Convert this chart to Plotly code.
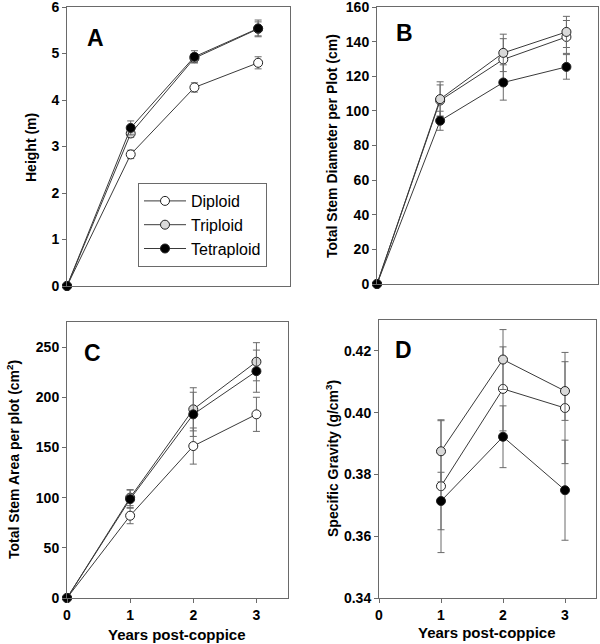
import plotly.graph_objects as go

# ---------------- data ----------------
years = [0, 1, 2, 3]
sg_years = [1, 2, 3]
series_names = ["Diploid", "Triploid", "Tetraploid"]

height_dip = [0, 2.83, 4.27, 4.80]
height_tri = [0, 3.28, 4.90, 5.53]
height_tet = [0, 3.40, 4.93, 5.54]
height_dip_err = [0, 0.09, 0.10, 0.13]
height_tri_err = [0, 0.08, 0.10, 0.15]
height_tet_err = [0, 0.15, 0.13, 0.18]

diam_dip = [0, 106.0, 129.7, 142.7]
diam_tri = [0, 106.8, 133.5, 145.6]
diam_tet = [0, 94.3, 116.4, 125.4]
diam_dip_err = [0, 9.0, 12.0, 9.5]
diam_tri_err = [0, 10.0, 10.8, 9.0]
diam_tet_err = [0, 5.5, 10.2, 7.1]

area_dip = [0, 82.0, 151.4, 183.0]
area_tri = [0, 100.0, 188.0, 235.4]
area_tet = [0, 98.5, 183.0, 226.0]
area_dip_err = [0, 8.0, 18.0, 17.0]
area_tri_err = [0, 8.0, 21.5, 19.0]
area_tet_err = [0, 9.0, 22.0, 21.0]

sg_dip = [0.3762, 0.4077, 0.4015]
sg_tri = [0.3875, 0.4172, 0.4070]
sg_tet = [0.3714, 0.3922, 0.3749]
sg_dip_err = [0.0215, 0.0136, 0.018]
sg_tri_err = [0.0099, 0.0097, 0.0095]
sg_tet_err = [0.0093, 0.0100, 0.0162]

# ---------------- style ----------------
FONT = "Arial, Liberation Sans, sans-serif"
fills = ["white", "#d9d9d9", "black"]
LINE_C = "#3a3a3a"
AX_C = "#6a6a6a"
ERR_C = "#6a6a6a"

W, H = 600, 644


def fx(p):
    return min(1.0, max(0.0, p / W))


def fy(p):
    return min(1.0, max(0.0, 1 - p / H))


def px_x(a, b):
    return [fx(a), fx(b)]


def px_y(top, bottom):
    return [fy(bottom), fy(top)]


fig = go.Figure()

panels = [
    ("x", "y", years, [height_dip, height_tri, height_tet],
     [height_dip_err, height_tri_err, height_tet_err], True),
    ("x2", "y2", years, [diam_dip, diam_tri, diam_tet],
     [diam_dip_err, diam_tri_err, diam_tet_err], False),
    ("x3", "y3", years, [area_dip, area_tri, area_tet],
     [area_dip_err, area_tri_err, area_tet_err], False),
    ("x4", "y4", sg_years, [sg_dip, sg_tri, sg_tet],
     [sg_dip_err, sg_tri_err, sg_tet_err], False),
]

for xa, ya, xs, ser, errs, showleg in panels:
    for name, vals, err, fill in zip(series_names, ser, errs, fills):
        fig.add_trace(go.Scatter(
            x=xs, y=vals, name=name, xaxis=xa, yaxis=ya,
            mode="lines+markers",
            line=dict(color=LINE_C, width=1),
            marker=dict(size=9, color=fill, line=dict(color="#222222", width=1)),
            error_y=dict(type="data", array=err, visible=True,
                         color=ERR_C, thickness=1, width=3.5),
            cliponaxis=False,
            showlegend=showleg,
        ))

tickfont = dict(family=FONT, size=14, color="black", weight="bold")


def xaxis_cfg(domain, anchor, labels):
    d = dict(domain=domain, anchor=anchor, range=[0, 3.5],
             showline=True, mirror=True, linecolor=AX_C, linewidth=1,
             showgrid=False, zeroline=False, automargin=False)
    if labels:
        d.update(tickmode="array", tickvals=[0, 1, 2, 3],
                 ticks="outside", ticklen=4, tickcolor=AX_C,
                 showticklabels=True, tickfont=tickfont,
                 ticklabeloverflow="allow")
    else:
        d.update(ticks="", showticklabels=False)
    return d


def yaxis_cfg(domain, anchor, rng, dtick, fmt=None):
    d = dict(domain=domain, anchor=anchor, range=rng, dtick=dtick, tick0=rng[0],
             showline=True, mirror=True, linecolor=AX_C, linewidth=1,
             ticks="outside", ticklen=4, tickcolor=AX_C,
             showgrid=False, zeroline=False, tickfont=tickfont, automargin=False,
             ticklabeloverflow="allow")
    if fmt:
        d["tickformat"] = fmt
    return d


fig.update_layout(
    width=W, height=H,
    margin=dict(l=0, r=0, t=0, b=0),
    paper_bgcolor="white", plot_bgcolor="white",
    font=dict(family=FONT, color="black"),
    xaxis=xaxis_cfg(px_x(67, 290), "y", False),
    yaxis=yaxis_cfg(px_y(7, 286), "x", [0, 6], 1),
    xaxis2=xaxis_cfg(px_x(377, 598), "y2", False),
    yaxis2=yaxis_cfg(px_y(7, 284), "x2", [0, 160], 20),
    xaxis3=xaxis_cfg(px_x(67, 288), "y3", True),
    yaxis3=yaxis_cfg(px_y(322, 598), "x3", [0, 275], 50),
    xaxis4=xaxis_cfg(px_x(379, 596), "y4", True),
    yaxis4=yaxis_cfg(px_y(320, 598), "x4", [0.34, 0.43], 0.02, ".2f"),
    legend=dict(x=fx(138), y=fy(183), xanchor="left", yanchor="top",
                bordercolor=AX_C, borderwidth=1, bgcolor="white",
                font=dict(family=FONT, size=16, color="black"),
                tracegroupgap=0, itemwidth=42),
)


def ann(text, x, y, size, angle=0):
    fig.add_annotation(text=text, x=fx(x), y=fy(y), xref="paper", yref="paper",
                       showarrow=False, textangle=angle, xanchor="center", yanchor="middle",
                       font=dict(family=FONT, size=size, color="black", weight="bold"))


# panel letters
ann("A", 95, 38, 23)
ann("B", 404, 33, 23)
ann("C", 92, 353, 23)
ann("D", 403, 350, 23)

# y titles
ann("Height (m)", 31, 148, 14, -90)
ann("Total Stem Diameter per Plot (cm)", 332, 146, 14, -90)
ann("Total Stem Area per plot (cm<sup>2</sup>)", 13, 460, 14, -90)
ann("Specific Gravity (g/cm<sup>3</sup>)", 332, 459, 14, -90)

# x titles
ann("Years post-coppice", 177, 634, 15)
ann("Years post-coppice", 487, 632, 15)

fig.write_html("out.html",
               config={"displayModeBar": False},
               post_script="document.body.style.margin='0';document.body.style.overflow='hidden';")
